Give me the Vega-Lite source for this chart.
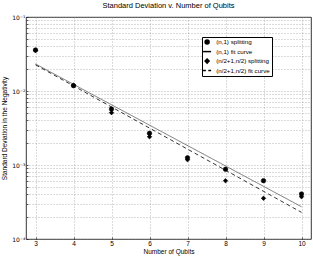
{
  "$schema": "https://vega.github.io/schema/vega-lite/v6.json",
  "width": 285,
  "height": 222,
  "autosize": {"type": "none"},
  "padding": {"left": 26, "top": 17, "right": 2, "bottom": 21},
  "background": "white",
  "title": {"text": "Standard Deviation v. Number of Qubits", "fontSize": 7.5, "font": "Liberation Sans", "fontWeight": "normal", "offset": 5, "color": "#000000"},
  "config": {
    "view": {"stroke": "black", "strokeWidth": 0.8},
    "axis": {"labelFont": "Liberation Sans", "titleFont": "Liberation Sans", "labelFontSize": 6.5, "titleFontSize": 6.5, "titleFontWeight": "normal", "labelColor": "black", "titleColor": "black", "gridColor": "#888", "gridDash": [1, 2], "gridWidth": 0.6, "domain": false, "tickColor": "black", "tickSize": -2, "tickWidth": 0.6}
  },
  "datasets": {
    "pts": [
      {"n": 3, "sd": 0.0358, "series": "(n,1) splitting"},
      {"n": 4, "sd": 0.0118, "series": "(n,1) splitting"},
      {"n": 5, "sd": 0.0057, "series": "(n,1) splitting"},
      {"n": 6, "sd": 0.00268, "series": "(n,1) splitting"},
      {"n": 7, "sd": 0.00125, "series": "(n,1) splitting"},
      {"n": 8, "sd": 0.000875, "series": "(n,1) splitting"},
      {"n": 9, "sd": 0.000614, "series": "(n,1) splitting"},
      {"n": 10, "sd": 0.000405, "series": "(n,1) splitting"},
      {"n": 3, "sd": 0.0352, "series": "(n/2+1,n/2) splitting"},
      {"n": 4, "sd": 0.0120, "series": "(n/2+1,n/2) splitting"},
      {"n": 5, "sd": 0.0051, "series": "(n/2+1,n/2) splitting"},
      {"n": 6, "sd": 0.00241, "series": "(n/2+1,n/2) splitting"},
      {"n": 7, "sd": 0.00118, "series": "(n/2+1,n/2) splitting"},
      {"n": 8, "sd": 0.000614, "series": "(n/2+1,n/2) splitting"},
      {"n": 9, "sd": 0.000355, "series": "(n/2+1,n/2) splitting"},
      {"n": 10, "sd": 0.000373, "series": "(n/2+1,n/2) splitting"}
    ],
    "fits": [
      {"n": 3, "sd": 0.0232, "series": "(n,1) fit curve"},
      {"n": 10, "sd": 0.000273, "series": "(n,1) fit curve"},
      {"n": 3, "sd": 0.0226, "series": "(n/2+1,n/2) fit curve"},
      {"n": 10, "sd": 0.000229, "series": "(n/2+1,n/2) fit curve"}
    ]
  },
  "layer": [
    {
      "data": {"name": "fits"},
      "mark": {"type": "line", "strokeWidth": 0.8, "clip": true},
      "encoding": {
        "x": {"field": "n", "type": "quantitative", "scale": {"domain": [2.75, 10.25], "nice": false, "zero": false},
              "axis": {"title": "Number of Qubits", "values": [3, 4, 5, 6, 7, 8, 9, 10], "grid": true, "labelPadding": 3, "titlePadding": 2}},
        "y": {"field": "sd", "type": "quantitative", "scale": {"type": "log", "domain": [0.0001, 0.1], "nice": false},
              "axis": {"title": "Standard Deviation in the Negativity", "grid": true, "labelOverlap": false, "labelPadding": 3, "titlePadding": 4, "labelFont": "DejaVu Sans", "labelFontSize": 6,
                       "values": [0.0001, 0.0002, 0.0003, 0.0004, 0.0005, 0.0006, 0.0007, 0.0008, 0.0009, 0.001, 0.002, 0.003, 0.004, 0.005, 0.006, 0.007, 0.008, 0.009, 0.01, 0.02, 0.03, 0.04, 0.05, 0.06, 0.07, 0.08, 0.09, 0.1],
                       "labelExpr": "datum.value == 0.1 ? '10⁻¹' : datum.value == 0.01 ? '10⁻²' : datum.value == 0.001 ? '10⁻³' : datum.value == 0.0001 ? '10⁻⁴' : ''"}},
        "color": {"field": "series", "type": "nominal", "scale": {"domain": ["(n,1) fit curve", "(n/2+1,n/2) fit curve"], "range": ["#555555", "#000000"]}, "legend": null},
        "strokeDash": {"field": "series", "type": "nominal", "scale": {"domain": ["(n,1) fit curve", "(n/2+1,n/2) fit curve"], "range": [[1, 0], [4, 3]]}, "legend": null}
      }
    },
    {
      "data": {"name": "pts"},
      "mark": {"type": "point", "filled": true, "color": "black", "stroke": "black", "strokeWidth": 0.6, "size": 20, "opacity": 1},
      "encoding": {
        "x": {"field": "n", "type": "quantitative"},
        "y": {"field": "sd", "type": "quantitative"},
        "shape": {"field": "series", "type": "nominal",
                  "scale": {"domain": ["(n,1) splitting", "(n,1) fit curve", "(n/2+1,n/2) splitting", "(n/2+1,n/2) fit curve"],
                            "range": ["circle", "M-2,0L2,0", "diamond", "M-2,0L-0.6,0M0.6,0L2,0"]},
                  "legend": {"title": null, "orient": "none", "legendX": 176, "legendY": 20, "fillColor": "white", "strokeColor": "black", "padding": 2, "cornerRadius": 0,
                             "labelFont": "Liberation Sans", "labelFontSize": 6.2, "labelColor": "black", "symbolSize": 16, "rowPadding": 0.5, "labelOffset": 6, "symbolOpacity": 1,
                             "encode": {"symbols": {"update": {"stroke": {"value": "black"}, "strokeWidth": {"value": 0.9}, "fill": {"value": "black"}}}}}}
      }
    }
  ]
}
